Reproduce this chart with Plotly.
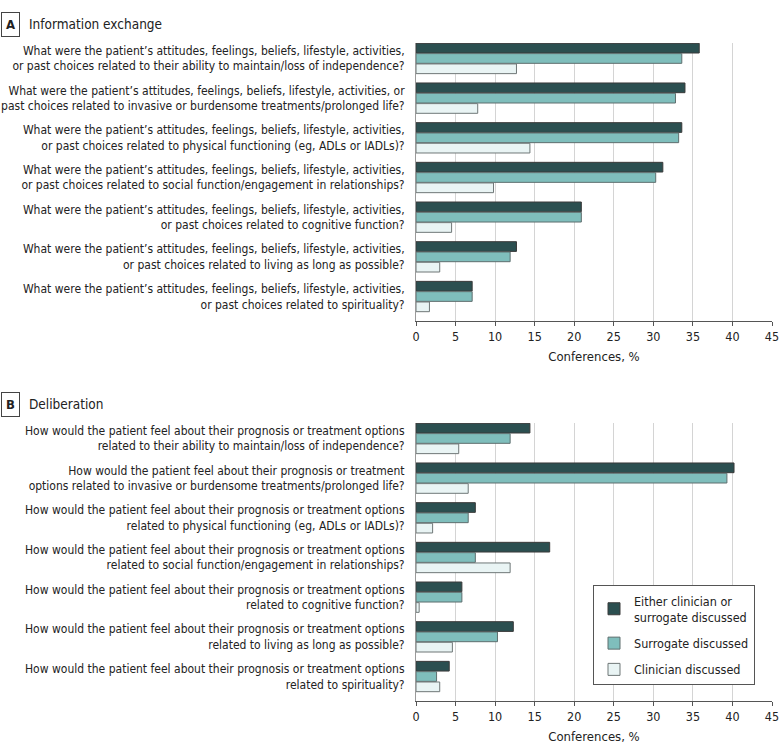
import plotly.graph_objects as go

FONT = "DejaVu Sans Condensed, Roboto"

labels_a = [
    "What were the patient’s attitudes, feelings, beliefs, lifestyle, activities,<br>or past choices related to their ability to maintain/loss of independence?",
    "What were the patient’s attitudes, feelings, beliefs, lifestyle, activities, or<br>past choices related to invasive or burdensome treatments/prolonged life?",
    "What were the patient’s attitudes, feelings, beliefs, lifestyle, activities,<br>or past choices related to physical functioning (eg, ADLs or IADLs)?",
    "What were the patient’s attitudes, feelings, beliefs, lifestyle, activities,<br>or past choices related to social function/engagement in relationships?",
    "What were the patient’s attitudes, feelings, beliefs, lifestyle, activities,<br>or past choices related to cognitive function?",
    "What were the patient’s attitudes, feelings, beliefs, lifestyle, activities,<br>or past choices related to living as long as possible?",
    "What were the patient’s attitudes, feelings, beliefs, lifestyle, activities,<br>or past choices related to spirituality?",
]
either_a = [35.8, 34.0, 33.6, 31.2, 20.9, 12.7, 7.1]
surrogate_a = [33.6, 32.8, 33.2, 30.3, 20.9, 11.9, 7.1]
clinician_a = [12.7, 7.8, 14.4, 9.8, 4.5, 3.0, 1.7]

labels_b = [
    "How would the patient feel about their prognosis or treatment options<br>related to their ability to maintain/loss of independence?",
    "How would the patient feel about their prognosis or treatment<br>options related to invasive or burdensome treatments/prolonged life?",
    "How would the patient feel about their prognosis or treatment options<br>related to physical functioning (eg, ADLs or IADLs)?",
    "How would the patient feel about their prognosis or treatment options<br>related to social function/engagement in relationships?",
    "How would the patient feel about their prognosis or treatment options<br>related to cognitive function?",
    "How would the patient feel about their prognosis or treatment options<br>related to living as long as possible?",
    "How would the patient feel about their prognosis or treatment options<br>related to spirituality?",
]
either_b = [14.4, 40.2, 7.5, 16.9, 5.8, 12.3, 4.2]
surrogate_b = [11.9, 39.3, 6.6, 7.5, 5.8, 10.3, 2.6]
clinician_b = [5.4, 6.6, 2.1, 11.9, 0.4, 4.6, 3.0]

series_names = ["Either clinician or<br>surrogate discussed", "Surrogate discussed", "Clinician discussed"]
fill_colors = ["#2b4f50", "#7fbebc", "#e9f4f4"]
line_colors = ["#3a3a3a", "#5e6e6e", "#6f7777"]
x_ticks = [0, 5, 10, 15, 20, 25, 30, 35, 40, 45]

fig = go.Figure()

for panel, (labels, vals) in enumerate([(labels_a, [either_a, surrogate_a, clinician_a]),
                                         (labels_b, [either_b, surrogate_b, clinician_b])]):
    xa = "x" if panel == 0 else "x2"
    ya = "y" if panel == 0 else "y2"
    for i in range(3):
        fig.add_trace(go.Bar(
            y=labels, x=vals[i], orientation="h",
            name=series_names[i],
            marker=dict(color=fill_colors[i], line=dict(color=line_colors[i], width=1)),
            xaxis=xa, yaxis=ya,
            showlegend=(panel == 1),
            legendgroup=str(i),
            hoverinfo="x+name",
        ))

ax_common = dict(
    range=[0, 45], tickvals=x_ticks, ticktext=[str(t) for t in x_ticks],
    showgrid=True, gridcolor="#d4d4d4", gridwidth=1,
    showline=True, linecolor="#555555", linewidth=1,
    ticks="outside", ticklen=4, tickcolor="#555555",
    tickfont=dict(family=FONT, size=12.5, color="#222"),
    zeroline=False, automargin=False,
    title=dict(text="Conferences, %", font=dict(family=FONT, size=13, color="#222"), standoff=8),
)
ay_common = dict(
    type="category", range=[6.617, -0.39],
    showline=True, linecolor="#9a9a9a", linewidth=1,
    showgrid=False, ticks="", ticklabelstandoff=8, automargin=False,
    tickfont=dict(family=FONT, size=12, color="#222"),
)

W, H = 780, 755
left, right_edge, top, bottom = 416, 772, 43, 701
ph = bottom - top
pw = right_edge - left

def frac(ref_y):
    return 1 - (ref_y - top) / ph

def fx(ref_x):
    return (ref_x - left) / pw

fig.update_layout(
    width=W, height=H,
    margin=dict(l=left, r=W - right_edge, t=top, b=H - bottom, pad=0),
    plot_bgcolor="white", paper_bgcolor="white",
    barmode="group", bargap=0.22, bargroupgap=0.06,
    xaxis=dict(domain=[0, 1], anchor="y", **ax_common),
    yaxis=dict(domain=[frac(321), 1], anchor="x", categoryarray=labels_a, **ay_common),
    xaxis2=dict(domain=[0, 1], anchor="y2", **ax_common),
    yaxis2=dict(domain=[0, frac(423)], anchor="x2", categoryarray=labels_b, **ay_common),
    legend=dict(
        x=fx(593), y=frac(585), xanchor="left", yanchor="top",
        bordercolor="#555555", borderwidth=1, bgcolor="white",
        font=dict(family=FONT, size=12.5, color="#222"),
        tracegroupgap=7, itemwidth=30,
    ),
    font=dict(family=FONT, size=13, color="#222"),
)

for letter, title, ypx in [("A", "Information exchange", 24), ("B", "Deliberation", 404)]:
    fig.add_annotation(
        xref="paper", yref="paper", x=fx(1), y=frac(ypx),
        xanchor="left", yanchor="middle", text="<b>" + letter + "</b>",
        showarrow=False, font=dict(family=FONT, size=13, color="#222"),
        bordercolor="#444", borderwidth=1, borderpad=4,
    )
    fig.add_annotation(
        xref="paper", yref="paper", x=fx(27), y=frac(ypx),
        xanchor="left", yanchor="middle", text=title,
        showarrow=False, font=dict(family=FONT, size=13.5, color="#222"),
    )

fig.write_html("out.html", config={"displayModeBar": False},
               post_script="document.body.style.margin='0';")
